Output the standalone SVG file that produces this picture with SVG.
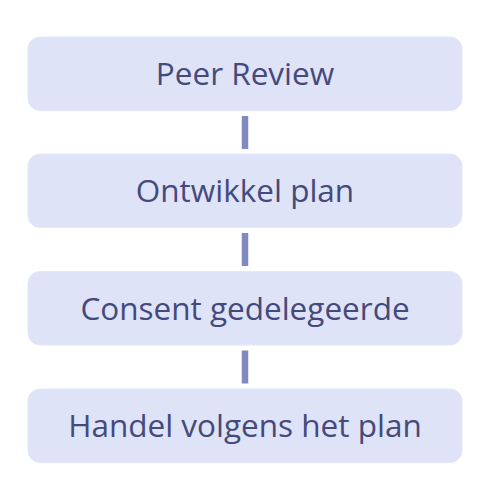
<svg xmlns="http://www.w3.org/2000/svg" width="490" height="500" viewBox="0 0 490 500">
<style>
.box{fill:#dfe3f7;stroke:#e3e7f8;stroke-width:1}
.lbl{font-family:"Open Sans","Noto Sans",sans-serif;font-size:31.5px;fill:#454a7c;text-anchor:middle}
.conn{stroke:#8189c1;stroke-width:6.5}
</style>
<rect width="490" height="500" fill="#ffffff"/>
<g id="connectors">
<line class="conn" x1="245" y1="116" x2="245" y2="149"/>
<line class="conn" x1="245" y1="233" x2="245" y2="266"/>
<line class="conn" x1="245" y1="350.5" x2="245" y2="383.5"/>
</g>
<g id="node1"><rect class="box" x="28" y="37" width="434" height="73.5" rx="12"/><text class="lbl" x="245" y="85">Peer Review</text></g>
<g id="node2"><rect class="box" x="28" y="154" width="434" height="73.5" rx="12"/><text class="lbl" x="245" y="202">Ontwikkel plan</text></g>
<g id="node3"><rect class="box" x="28" y="271.5" width="434" height="73.5" rx="12"/><text class="lbl" x="245" y="319.5">Consent gedelegeerde</text></g>
<g id="node4"><rect class="box" x="28" y="389" width="434" height="73.5" rx="12"/><text class="lbl" x="245" y="437">Handel volgens het plan</text></g>
</svg>
